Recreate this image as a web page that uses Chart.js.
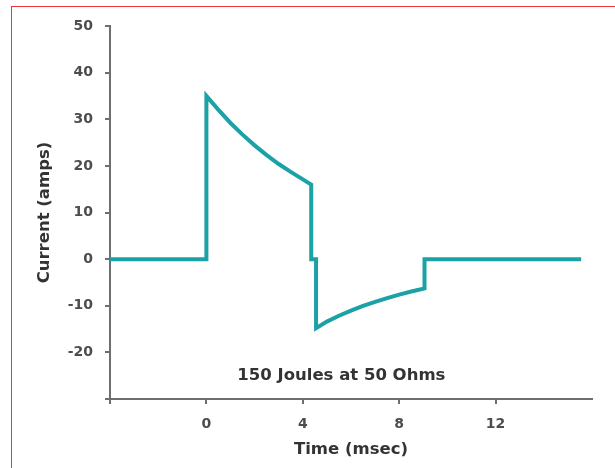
<!DOCTYPE html>
<html>
<head>
<meta charset="utf-8">
<script src="https://cdn.jsdelivr.net/npm/chart.js@4/dist/chart.umd.min.js"></script>
<style>
  html, body { margin: 0; padding: 0; background: #fff; }
  #wrap { position: relative; width: 615px; height: 468px; overflow: hidden; }
  #frame { position: absolute; left: 11px; top: 6px; width: 700px; height: 600px;
           border-left: 1.5px solid #e8363c; border-top: 1.5px solid #e8363c; }
  canvas { position: absolute; left: 0; top: 0; }
</style>
</head>
<body>
<div id="wrap">
  <div id="frame"></div>
  <canvas id="chart" width="615" height="468"></canvas>
</div>
<script>
// waveform: time (msec) / current (amps)
const times    = [-4, 0, 0, 0.5, 1, 1.5, 2, 2.5, 3, 3.5, 4, 4.35, 4.35, 4.55, 4.55, 5, 5.5, 6, 6.5, 7, 7.5, 8, 8.5, 9.05, 9.05, 15.55];
const currents = [0, 0, 35, 32, 29.2, 26.7, 24.4, 22.3, 20.4, 18.7, 17.1, 16, 0, 0, -14.8, -13.4, -12.15, -11.05, -10.05, -9.15, -8.35, -7.6, -6.95, -6.3, 0, 0];

const xTicks = [0, 4, 8, 12];
const yTicks = [-20, -10, 0, 10, 20, 30, 40, 50];

const noteText = '150 Joules at 50 Ohms';
const notePos = { x: 5.6, y: -25 };

const axisColor = '#6e6e6e';
const textColor = '#333333';
const tickColor = '#4d4d4d';
const fontFamily = '"DejaVu Sans", sans-serif';

const points = times.map((t, i) => ({ x: t, y: currents[i] }));

const notePlugin = {
    id: 'note',
    afterDatasetsDraw(chart) {
        const { ctx, scales } = chart;
        ctx.save();
        ctx.font = 'bold 16.5px ' + fontFamily;
        ctx.fillStyle = textColor;
        ctx.textAlign = 'center';
        ctx.textBaseline = 'middle';
        ctx.fillText(noteText, scales.x.getPixelForValue(notePos.x), scales.y.getPixelForValue(notePos.y));
        ctx.restore();
    }
};

const ctx = document.getElementById('chart').getContext('2d');
new Chart(ctx, {
    type: 'line',
    data: {
        datasets: [{
            data: points,
            borderColor: '#1ba1a6',
            borderWidth: 4,
            borderJoinStyle: 'miter',
            borderCapStyle: 'butt',
            pointRadius: 0,
            tension: 0,
            fill: false
        }]
    },
    options: {
        responsive: false,
        animation: false,
        layout: { padding: { left: 0, top: 26, right: 23, bottom: 0 } },
        plugins: { legend: { display: false }, tooltip: { enabled: false } },
        scales: {
            x: {
                type: 'linear',
                min: -4,
                max: 16,
                afterFit: (scale) => { scale.height = 69; },
                afterBuildTicks: (scale) => {
                    scale.ticks = [-4, ...xTicks, 16].map(v => ({ value: v }));
                },
                ticks: {
                    color: tickColor,
                    font: { family: fontFamily, size: 14, weight: 'bold' },
                    padding: 12,
                    maxRotation: 0,
                    autoSkip: false,
                    callback: (v) => xTicks.includes(v) ? String(v) : ''
                },
                grid: {
                    drawOnChartArea: false,
                    drawTicks: true,
                    tickLength: 5,
                    lineWidth: 2,
                    color: (c) => (c.tick && c.tick.value === 16) ? 'rgba(0,0,0,0)' : axisColor
                },
                border: { color: axisColor, width: 2 },
                title: {
                    display: true,
                    text: 'Time (msec)',
                    color: textColor,
                    font: { family: fontFamily, size: 16.5, weight: 'bold' },
                    padding: { top: 0, bottom: 8 }
                }
            },
            y: {
                min: -30,
                max: 50,
                afterFit: (scale) => { scale.width = 110; },
                afterBuildTicks: (scale) => {
                    scale.ticks = [-30, ...yTicks].map(v => ({ value: v }));
                },
                ticks: {
                    color: tickColor,
                    font: { family: fontFamily, size: 14, weight: 'bold' },
                    padding: 12,
                    autoSkip: false,
                    callback: (v) => yTicks.includes(v) ? String(v) : ''
                },
                grid: {
                    drawOnChartArea: false,
                    drawTicks: true,
                    tickLength: 5,
                    lineWidth: 2,
                    color: axisColor
                },
                border: { color: axisColor, width: 2 },
                title: {
                    display: true,
                    text: 'Current (amps)',
                    color: textColor,
                    font: { family: fontFamily, size: 16.5, weight: 'bold' },
                    padding: { top: 35, bottom: 0 }
                }
            }
        }
    },
    plugins: [notePlugin]
});
</script>
</body>
</html>
